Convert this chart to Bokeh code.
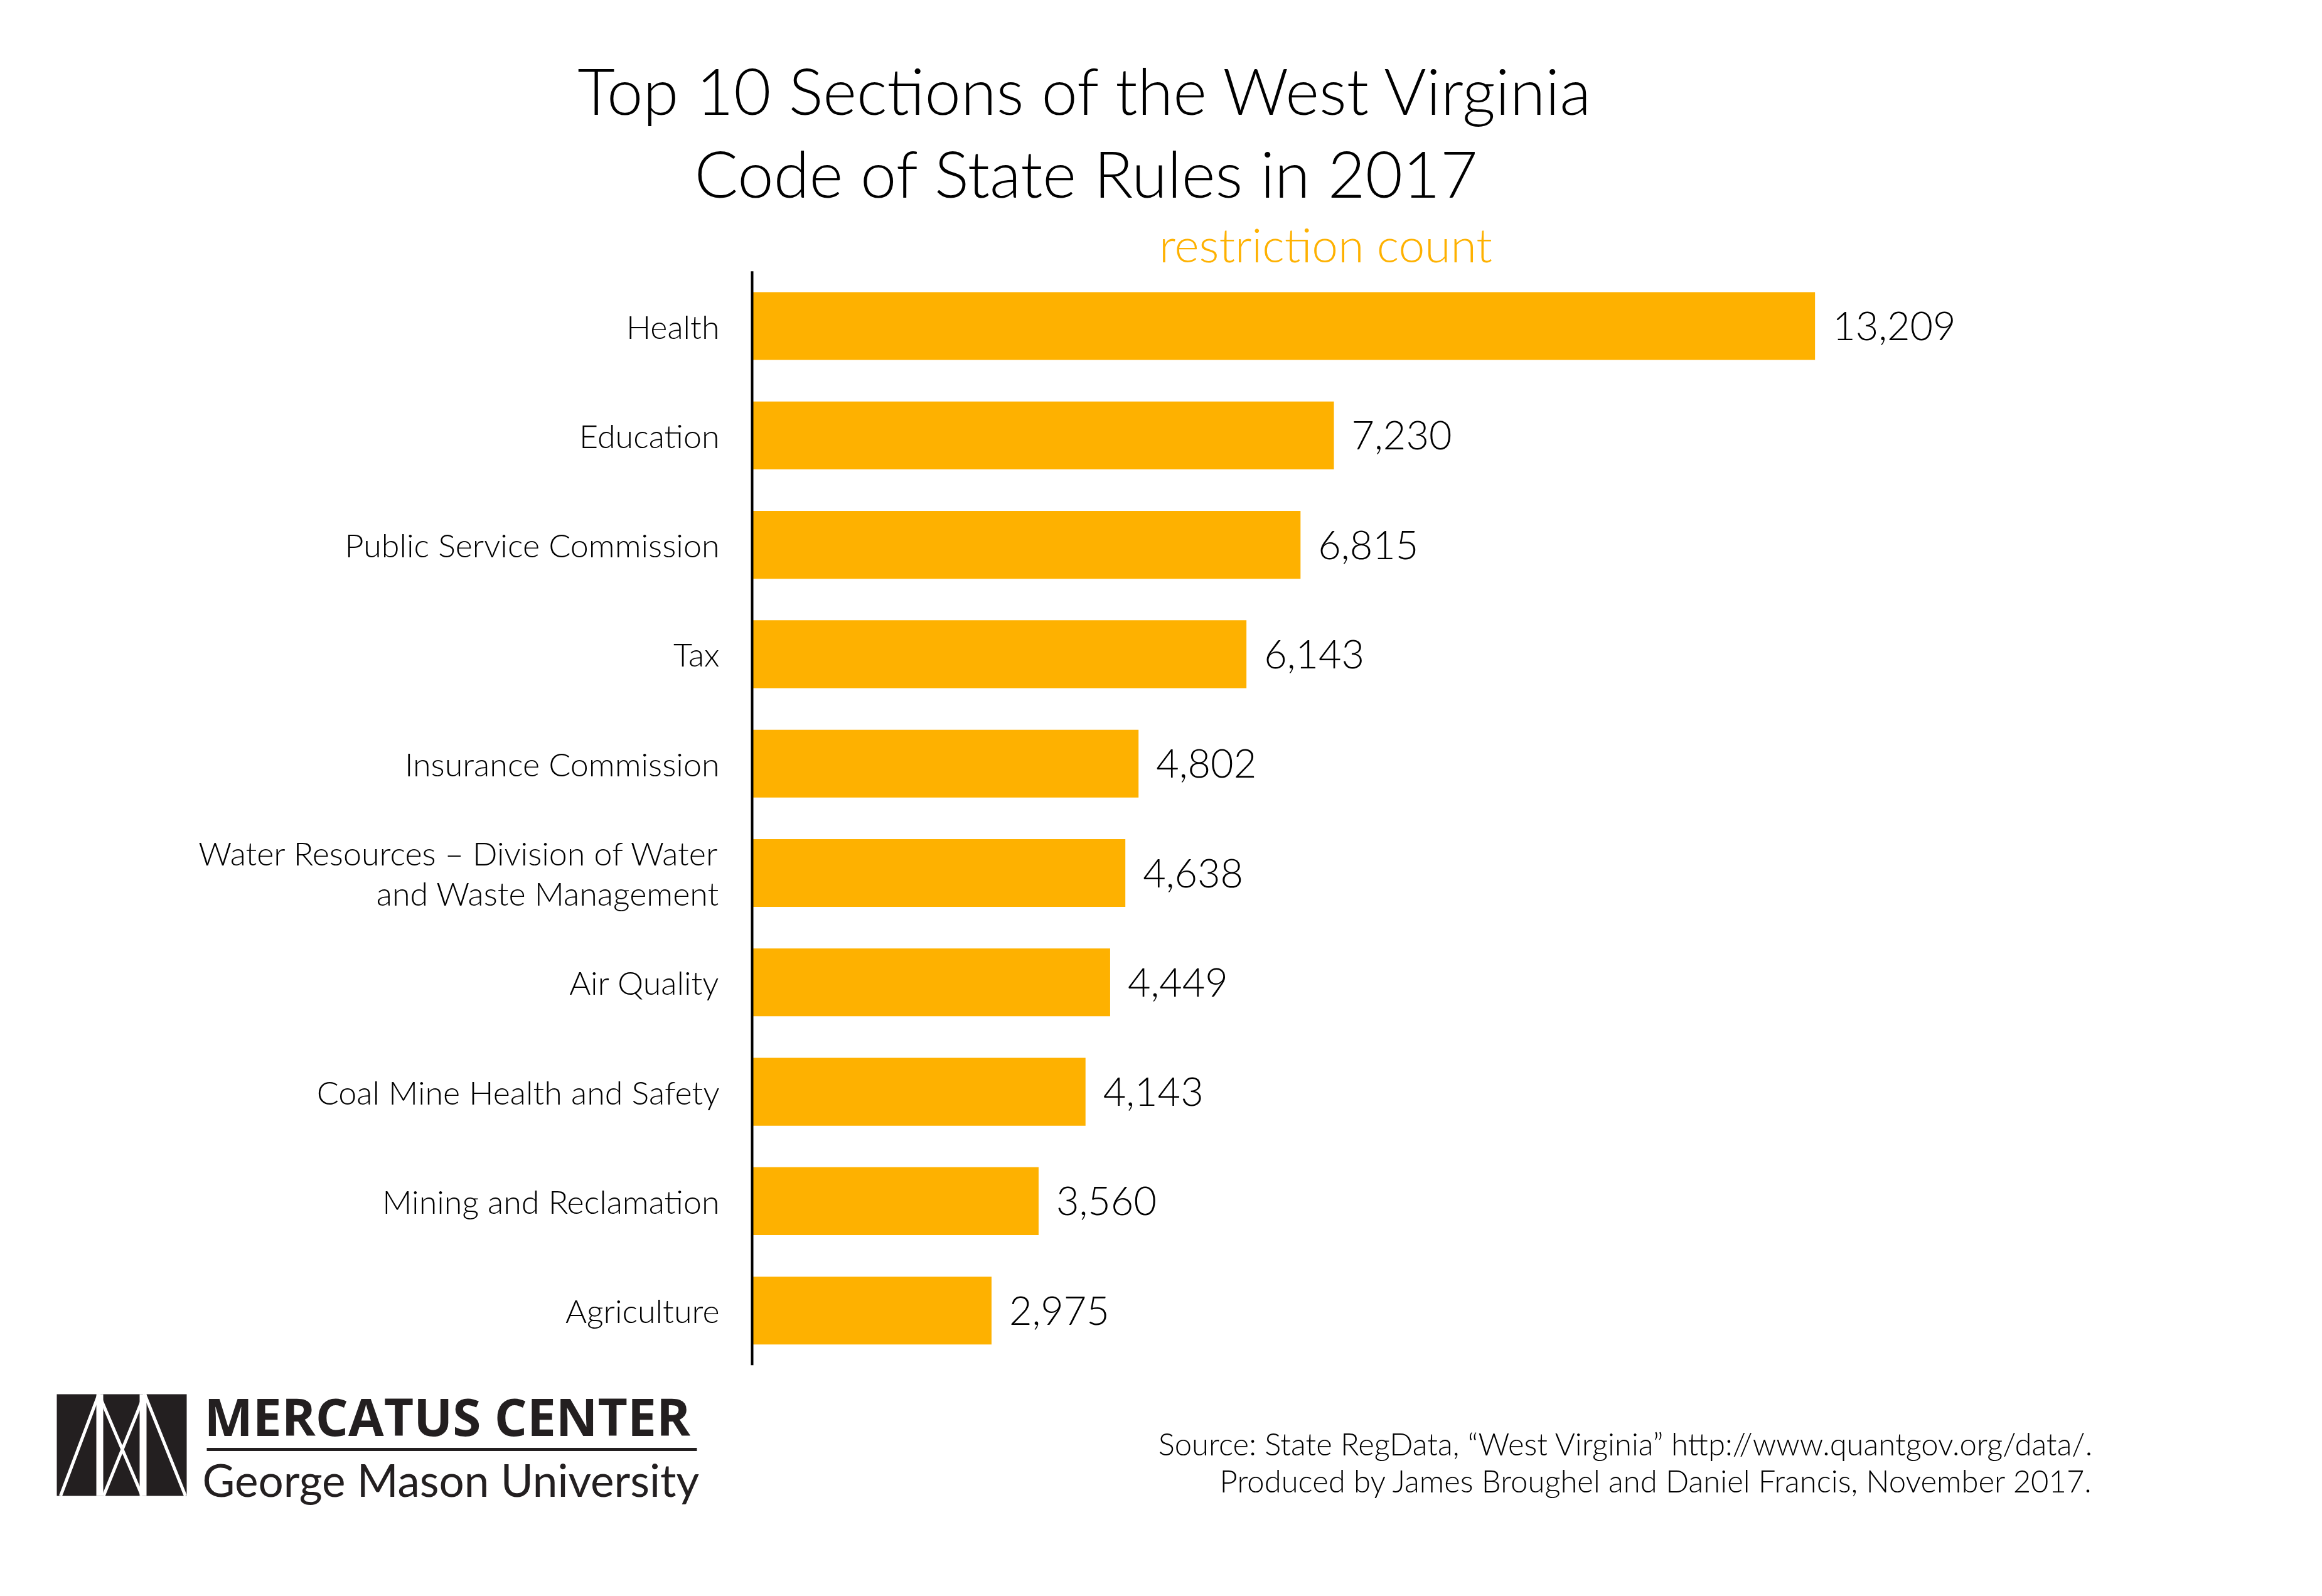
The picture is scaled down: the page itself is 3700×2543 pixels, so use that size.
from bokeh.plotting import figure
from bokeh.models import Range1d, ColumnDataSource
from bokeh.core.properties import value
from bokeh.embed import file_html
from bokeh.resources import INLINE

# ---- data ----
categories = [
    "Health",
    "Education",
    "Public Service Commission",
    "Tax",
    "Insurance Commission",
    "Water Resources \u2013 Division of Water\nand Waste Management",
    "Air Quality",
    "Coal Mine Health and Safety",
    "Mining and Reclamation",
    "Agriculture",
]
counts = [13209, 7230, 6815, 6143, 4802, 4638, 4449, 4143, 3560, 2975]

title_lines = ["Top 10 Sections of the West Virginia", "Code of State Rules in 2017"]
axis_title = "restriction count"
source_lines = [
    "Source: State RegData, \u201cWest Virginia\u201d http://www.quantgov.org/data/.",
    "Produced by James Broughel and Daniel Francis, November 2017.",
]
logo_top = "MERCATUS CENTER"
logo_bottom = "George Mason University"

# ---- layout constants ----
W, H = 3680, 2520
ORANGE = "#FEB100"
FONT = "Lato Light, Lato"
x0_px = 1198          # canvas px of the zero line
px_per_unit = 0.12822
row0_px = 519         # canvas px of first bar centre
pitch_px = 174.3

n = len(categories)
pos = list(range(n))

p = figure(
    width=W, height=H,
    x_range=Range1d(-x0_px / px_per_unit, (W - x0_px) / px_per_unit),
    y_range=Range1d((H - row0_px) / pitch_px, -row0_px / pitch_px),
    output_backend="svg", toolbar_location=None,
    x_axis_location=None, y_axis_location=None,
    min_border=0, min_border_left=0, min_border_right=0,
    min_border_top=0, min_border_bottom=0,
    title=None,
)
p.grid.visible = False
p.outline_line_color = None
p.background_fill_color = "white"
p.border_fill_color = "white"
p.extra_x_ranges = {"px": Range1d(0, W)}
p.extra_y_ranges = {"px": Range1d(H, 0)}

src = ColumnDataSource(dict(
    pos=pos,
    count=counts,
    label=categories,
    count_lbl=[f"{c:,}" for c in counts],
))

p.hbar(y="pos", left=0, right="count", height=0.62, source=src,
       fill_color=ORANGE, line_color=None)

# vertical axis line
p.segment(x0=[0], y0=[-0.5], x1=[0], y1=[n - 0.5], line_color="black", line_width=4)

# category labels
p.text(x=0, y="pos", text="label", source=src, x_offset=-52,
       text_align="right", text_baseline="middle",
       text_font=value(FONT), text_font_size=value("52px"),
       text_color="black", text_line_height=1.03)

# value labels
p.text(x="count", y="pos", text="count_lbl", source=src, x_offset=28,
       text_align="left", text_baseline="middle",
       text_font=value(FONT), text_font_size=value("63px"),
       text_color="black")

# title
p.text(x=[1731, 1731], y=[142, 274], text=title_lines,
       x_range_name="px", y_range_name="px",
       text_align="center", text_baseline="middle",
       text_font=value(FONT), text_font_size=value("103px"), text_color="black")

# axis title
p.text(x=[2112], y=[388], text=[axis_title],
       x_range_name="px", y_range_name="px",
       text_align="center", text_baseline="middle",
       text_font=value(FONT), text_font_size=value("75px"), text_color=ORANGE)

# source note
p.text(x=[3336, 3336], y=[2299, 2358], text=source_lines,
       x_range_name="px", y_range_name="px",
       text_align="right", text_baseline="middle",
       text_font=value(FONT), text_font_size=value("49px"), text_color="black")

# ---- logo ----
p.quad(left=[90], right=[297], top=[2221], bottom=[2383],
       x_range_name="px", y_range_name="px",
       fill_color="#231f20", line_color=None)
p.quad(left=[153, 222], right=[164, 233], top=[2221, 2221], bottom=[2383, 2383],
       x_range_name="px", y_range_name="px",
       fill_color="white", line_color=None)
p.segment(x0=[96, 157, 164.5, 230], y0=[2383, 2221, 2383, 2221],
          x1=[157, 226, 230, 295], y1=[2221, 2383, 2221, 2383],
          x_range_name="px", y_range_name="px",
          line_color="white", line_width=5)
p.text(x=[325], y=[2255], text=[logo_top],
       x_range_name="px", y_range_name="px",
       text_align="left", text_baseline="middle",
       text_font=value("Open Sans"), text_font_style="bold",
       text_font_size=value("82px"), text_color="#231f20")
p.segment(x0=[329], y0=[2309], x1=[1110], y1=[2309],
          x_range_name="px", y_range_name="px",
          line_color="#231f20", line_width=5)
p.text(x=[322], y=[2357], text=[logo_bottom],
       x_range_name="px", y_range_name="px",
       text_align="left", text_baseline="middle",
       text_font=value("Lato"), text_font_size=value("71px"), text_color="#231f20")

open("out.html", "w").write(file_html(p, INLINE))
